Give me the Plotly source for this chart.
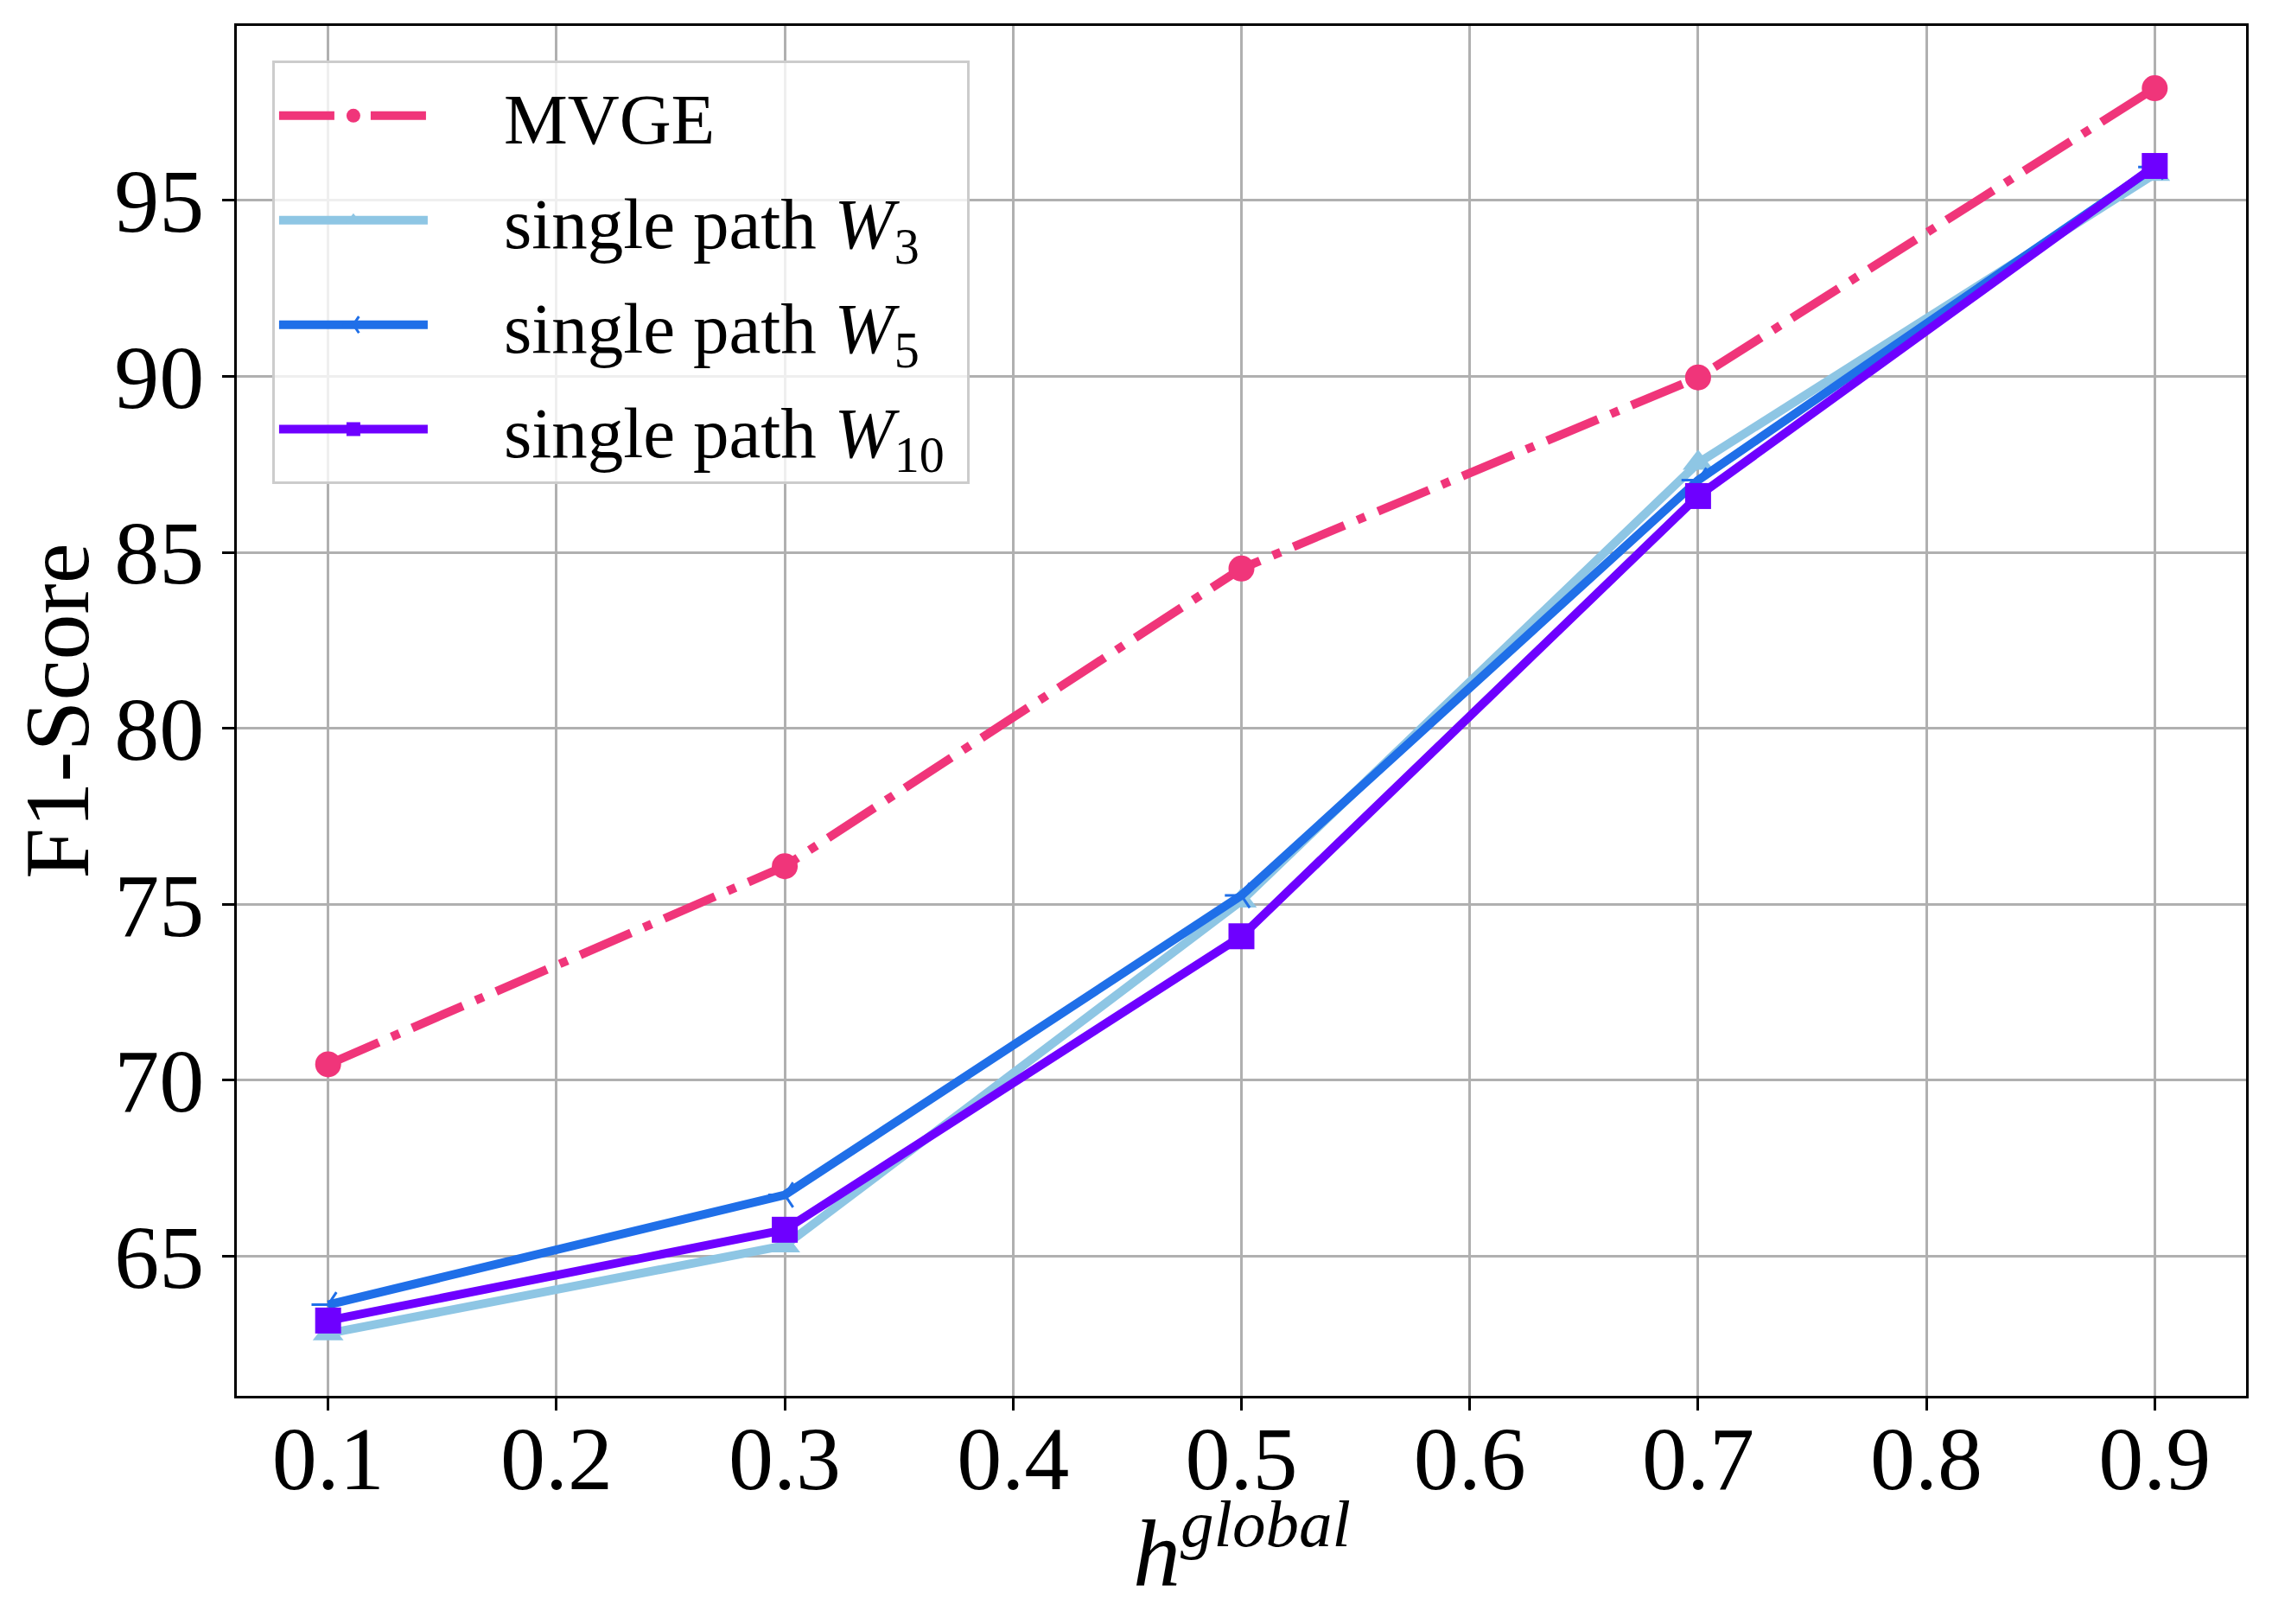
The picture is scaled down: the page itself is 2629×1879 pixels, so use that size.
import plotly.graph_objects as go

# h^global values on the x axis
h_global = [0.1, 0.3, 0.5, 0.7, 0.9]

# F1-Score per method
mvge = [70.45, 76.08, 84.54, 89.97, 98.19]
single_w3 = [62.80, 65.30, 75.10, 87.54, 95.75]
single_w5 = [63.62, 66.74, 75.25, 87.05, 95.95]
single_w10 = [63.17, 65.75, 74.09, 86.60, 95.98]

x_ticks = [0.1, 0.2, 0.3, 0.4, 0.5, 0.6, 0.7, 0.8, 0.9]
y_ticks = [65, 70, 75, 80, 85, 90, 95]

FONT = "Liberation Serif, Times New Roman, serif"
GAP = "\u00a0\u00a0\u00a0\u00a0"  # space between legend key and label
TAIL = "\u00a0"                    # right padding inside the legend box

# matplotlib-like 5% autoscale margins
all_y = mvge + single_w3 + single_w5 + single_w10
y_pad = 0.05 * (max(all_y) - min(all_y))
x_pad = 0.05 * (max(h_global) - min(h_global))

fig = go.Figure()

series = [
    ("MVGE", mvge, "#F0357A", "circle", 30, "64px,16px,10px,16px"),
    ("single path <i>W</i><sub>3</sub>", single_w3, "#8EC6E4", "triangle-up", 31, "solid"),
    ("single path <i>W</i><sub>5</sub>", single_w5, "#1F6FE8", "y-left", 24, "solid"),
    ("single path <i>W</i><sub>10</sub>", single_w10, "#6E00FF", "square", 30, "solid"),
]

for i, (name, vals, col, sym, size, dash) in enumerate(series):
    marker = dict(symbol=sym, size=size, color=col)
    if sym == "y-left":
        marker["line"] = dict(color=col, width=3)
    fig.add_trace(go.Scatter(
        x=h_global, y=vals, mode="lines+markers", name=GAP + name + TAIL,
        legendgroup=f"g{i}",
        line=dict(color=col, width=10, dash=dash),
        marker=marker,
    ))

# page body adds an 8px offset, margins compensate for it
fig.update_layout(
    width=2629, height=1879,
    margin=dict(l=266, r=38, t=22, b=272),
    plot_bgcolor="white", paper_bgcolor="white",
    font=dict(family=FONT, size=104, color="black"),
    legend=dict(
        x=0.0176, y=0.9745, xanchor="left", yanchor="top",
        bgcolor="rgba(255,255,255,0.8)", bordercolor="#cccccc", borderwidth=3,
        font=dict(family=FONT, size=83, color="black"),
        traceorder="grouped", tracegroupgap=10, itemwidth=172,
    ),
)

# x axis label placed under the tick labels
fig.add_annotation(
    text="<i>h</i><sup><i>global</i></sup>",
    xref="paper", yref="paper", x=0.5, y=0,
    xanchor="center", yanchor="bottom", yshift=-246, showarrow=False,
    font=dict(family=FONT, size=110, color="black"),
)

axis_common = dict(
    showline=True, linecolor="black", linewidth=3, mirror=True,
    ticks="outside", ticklen=14, tickwidth=3, tickcolor="black",
    showgrid=True, gridcolor="#b0b0b0", gridwidth=3,
    zeroline=False,
    tickfont=dict(family=FONT, size=104, color="black"),
)

fig.update_xaxes(
    **axis_common,
    range=[min(h_global) - x_pad, max(h_global) + x_pad],
    tickvals=x_ticks, ticktext=[f"{v:.1f}" for v in x_ticks],
    ticklabelstandoff=-34,
)
fig.update_yaxes(
    **axis_common,
    range=[min(all_y) - y_pad, max(all_y) + y_pad],
    tickvals=y_ticks,
    title=dict(text="F1-Score", font=dict(family=FONT, size=106, color="black"), standoff=25),
)

fig.write_html("out.html")
